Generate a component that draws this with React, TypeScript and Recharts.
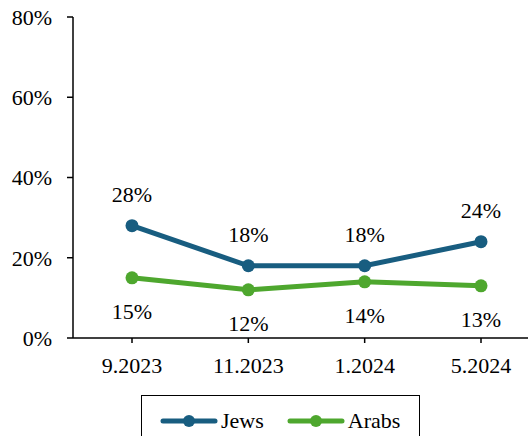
import { LineChart, Line, XAxis, YAxis, LabelList } from "recharts";

const periods = ["9.2023", "11.2023", "1.2024", "5.2024"];
const jews = [28, 18, 18, 24];
const arabs = [15, 12, 14, 13];
const yTicks = [0, 20, 40, 60, 80];

const JEWS_COLOR = "#185d80";
const ARABS_COLOR = "#4ea72e";
const FONT = '"Liberation Serif", "Times New Roman", serif';

const data = periods.map((p, i) => ({ period: p, jews: jews[i], arabs: arabs[i] }));

const pct = (v: number) => `${v}%`;

function labelAt(offset: number) {
  return (props: any) => (
    <text
      x={props.x}
      y={props.y + offset}
      textAnchor="middle"
      dominantBaseline="central"
      fontFamily={FONT}
      fontSize={22}
      fill="#000"
    >
      {pct(props.value)}
    </text>
  );
}

function LegendItem({ color, label }: { color: string; label: string }) {
  return (
    <div style={{ display: "flex", alignItems: "center" }}>
      <svg width={60} height={16}>
        <line x1={4} y1={8} x2={56} y2={8} stroke={color} strokeWidth={5} strokeLinecap="round" />
        <circle cx={30} cy={8} r={6} fill={color} />
      </svg>
      <span style={{ marginLeft: 2 }}>{label}</span>
    </div>
  );
}

export default function App() {
  return (
    <div
      style={{
        position: "fixed",
        left: 0,
        top: 0,
        width: 528,
        height: 436,
        overflow: "hidden",
        background: "#fff",
        fontFamily: FONT,
      }}
    >
      <LineChart width={545} height={436} data={data} margin={{ top: 17, right: 5, bottom: 38, left: 0 }}>
        <XAxis
          dataKey="period"
          padding={{ left: 59, right: 59 }}
          height={60}
          stroke="#000"
          strokeWidth={1.5}
          tickSize={5}
          tickMargin={14}
          tick={{ fill: "#000", fontSize: 22, fontFamily: FONT }}
        />
        <YAxis
          domain={[0, 80]}
          ticks={yTicks}
          tickFormatter={pct}
          width={73}
          stroke="#000"
          strokeWidth={1.5}
          tickSize={6}
          tickMargin={15}
          tick={{ fill: "#000", fontSize: 22, fontFamily: FONT }}
        />
        <Line
          dataKey="jews"
          stroke={JEWS_COLOR}
          strokeWidth={5}
          dot={{ r: 6.5, fill: JEWS_COLOR, stroke: JEWS_COLOR, strokeWidth: 0 }}
          isAnimationActive={false}
        >
          <LabelList dataKey="jews" content={labelAt(-31)} />
        </Line>
        <Line
          dataKey="arabs"
          stroke={ARABS_COLOR}
          strokeWidth={5}
          dot={{ r: 6.5, fill: ARABS_COLOR, stroke: ARABS_COLOR, strokeWidth: 0 }}
          isAnimationActive={false}
        >
          <LabelList dataKey="arabs" content={labelAt(34)} />
        </Line>
      </LineChart>
      <div
        style={{
          position: "absolute",
          left: 141,
          top: 395,
          width: 279,
          height: 50,
          border: "1px solid #000",
          boxSizing: "border-box",
          display: "flex",
          alignItems: "flex-start",
          paddingTop: 12,
          paddingLeft: 17,
          gap: 22,
          fontSize: 22,
          color: "#000",
        }}
      >
        <LegendItem color={JEWS_COLOR} label="Jews" />
        <LegendItem color={ARABS_COLOR} label="Arabs" />
      </div>
    </div>
  );
}
